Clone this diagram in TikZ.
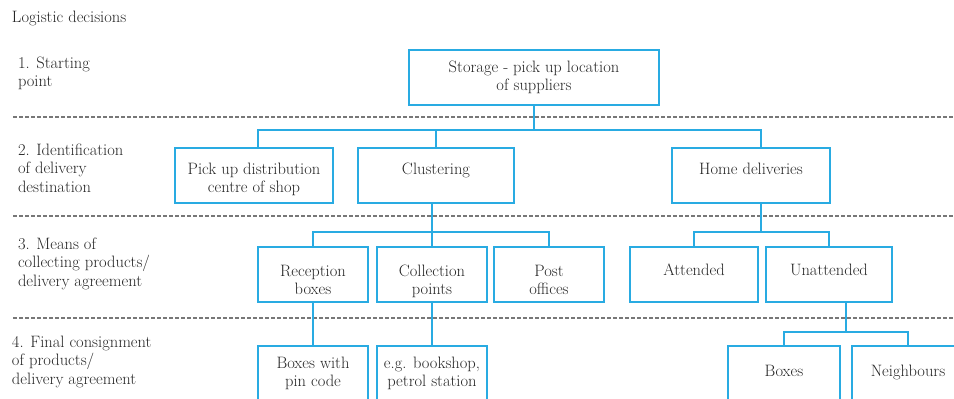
\documentclass[tikz,border=0pt]{standalone}
\definecolor{boxblue}{HTML}{29ABE2}
\definecolor{dashgray}{HTML}{777777}
\definecolor{txtgray}{HTML}{262626}
\newcommand\myfnt{\fontsize{16.5}{18.7}\selectfont}
\newcommand\bxt[4]{\parbox[t][#2][t]{#1}{\centering\rule{0pt}{#3}#4}}
\newcommand\lbt[1]{\parbox[t]{220pt}{\raggedright #1}}
\tikzset{
  every node/.style={font=\myfnt, text=txtgray},
  box/.style={draw=boxblue, line width=2pt, inner sep=0pt, outer sep=0pt, anchor=north west},
  lab/.style={inner sep=0pt, outer sep=0pt, anchor=base west},
  conn/.style={draw=boxblue, line width=2pt},
  sepline/.style={draw=dashgray, line width=1.8pt, dash pattern=on 4pt off 2pt}
}
\begin{document}
\begin{tikzpicture}[x=1pt,y=-1pt]
\useasboundingbox (0,0) rectangle (954,399);
\clip (0,0) rectangle (954,399);
% separators
\draw[sepline] (13,117) -- (954,117);
\draw[sepline] (13,216) -- (954,216);
\draw[sepline] (13,318) -- (954,318);
% left labels
\node[lab] (l0) at (12,22) {Logistic decisions};
\node[lab] (l1) at (18,68) {\lbt{1. Starting\\point}};
\node[lab] (l2) at (18,155) {\lbt{2. Identification\\of delivery\\destination}};
\node[lab] (l3) at (18,249) {\lbt{3. Means of\\collecting products/\\delivery agreement}};
\node[lab] (l4) at (12,347) {\lbt{4. Final consignment\\of products/\\delivery agreement}};
% level 1
\node[box] (stor) at (409,50) {\bxt{250pt}{55pt}{22pt}{Storage - pick up location\\of suppliers}};
% level 2
\node[box] (pick) at (175,148) {\bxt{158pt}{55pt}{26pt}{Pick up distribution\\centre of shop}};
\node[box] (clus) at (358,148) {\bxt{156pt}{55pt}{26pt}{Clustering}};
\node[box] (home) at (672,148) {\bxt{158pt}{55pt}{26pt}{Home deliveries}};
% level 3
\node[box] (rec) at (258,247) {\bxt{110pt}{55pt}{29pt}{Reception\\boxes}};
\node[box] (coll) at (377,247) {\bxt{110pt}{55pt}{29pt}{Collection\\points}};
\node[box] (post) at (494,247) {\bxt{110pt}{55pt}{29pt}{Post\\offices}};
\node[box] (att) at (630,247) {\bxt{128pt}{55pt}{28pt}{Attended}};
\node[box] (unatt) at (766,247) {\bxt{126pt}{55pt}{28pt}{Unattended}};
% level 4
\node[box] (bwp) at (258,346) {\bxt{110pt}{80pt}{22pt}{Boxes with\\pin code}};
\node[box] (eg) at (377,346) {\bxt{110pt}{80pt}{22pt}{e.g. bookshop,\\petrol station}};
\node[box] (bxs) at (728,346) {\bxt{112pt}{80pt}{30pt}{Boxes}};
\node[box] (nb) at (852,346) {\bxt{112pt}{80pt}{30pt}{Neighbours}};
% connectors
\coordinate (b1) at (534,130);
\coordinate (b2) at (432,232);
\coordinate (b3) at (761,232);
\coordinate (b4) at (846,332);
\draw[conn] (stor.south) -- (b1);
\draw[conn] (b1) -| ([xshift=4pt]pick.north);
\draw[conn] (b1) -| (clus.north);
\draw[conn] (b1) -| ([xshift=10pt]home.north);
\draw[conn] (clus.south -| b2) -- (b2);
\draw[conn] (b2) -| (rec.north);
\draw[conn] (b2) -- (coll.north);
\draw[conn] (b2) -| (post.north);
\draw[conn] (home.south -| b3) -- (b3);
\draw[conn] (b3) -| (att.north);
\draw[conn] (b3) -| (unatt.north);
\draw[conn] (rec.south) -- (bwp.north);
\draw[conn] (coll.south) -- (eg.north);
\draw[conn] (unatt.south -| b4) -- (b4);
\draw[conn] (b4) -| (bxs.north);
\draw[conn] (b4) -| (nb.north);
\end{tikzpicture}
\end{document}
